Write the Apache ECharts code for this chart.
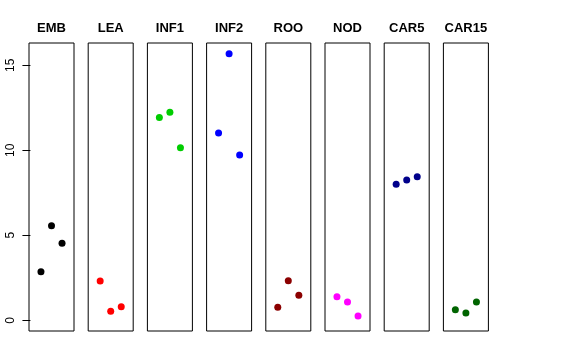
<!DOCTYPE html>
<html>
<head>
<meta charset="utf-8">
<script src="https://cdn.jsdelivr.net/npm/echarts@6/dist/echarts.min.js"></script>
<style>html,body{margin:0;padding:0;background:#fff}#c{width:576px;height:360px}</style>
</head>
<body>
<div id="c"></div>
<script>
var categories = ["EMB", "LEA", "INF1", "INF2", "ROO", "NOD", "CAR5", "CAR15"];
var EMB = [2.86, 5.56, 4.53];
var LEA = [2.31, 0.53, 0.80];
var INF1 = [11.93, 12.24, 10.15];
var INF2 = [11.02, 15.68, 9.72];
var ROO = [0.76, 2.33, 1.47];
var NOD = [1.39, 1.08, 0.25];
var CAR5 = [8.00, 8.25, 8.45];
var CAR15 = [0.62, 0.43, 1.08];
var yTicks = [0, 5, 10, 15];
var values = [EMB, LEA, INF1, INF2, ROO, NOD, CAR5, CAR15];
var colors = ["#000000", "#FF0000", "#00CD00", "#0000FF", "#8B0000", "#FF00FF", "#00008B", "#006400"];

(function () {
  var chart = echarts.init(document.getElementById('c'), null, {renderer: 'canvas'});
  var grids = [], xAxes = [], yAxes = [], series = [], titles = [];
  var left0 = 29, step = 59.2, pw = 45, ptop = 43, ph = 288;
  var fontFam = '"Liberation Sans", Arial, Helvetica, sans-serif';
  categories.forEach(function (cat, i) {
    var l = left0 + i * step;
    grids.push({left: l, top: ptop, width: pw, height: ph, show: true, borderColor: '#000', borderWidth: 1, backgroundColor: 'transparent'});
    xAxes.push({type: 'value', gridIndex: i, min: -0.135, max: 4.135, show: false});
    yAxes.push({
      type: 'value', gridIndex: i, min: -0.63, max: 16.31,
      show: i === 0,
      splitLine: {show: false},
      axisLine: {show: false},
      axisTick: {show: true, inside: false, length: 8, lineStyle: {color: '#000'}, customValues: yTicks},
      axisLabel: {show: true, rotate: 90, margin: 12, fontSize: 12, color: '#000', fontFamily: fontFam, customValues: yTicks}
    });
    series.push({
      type: 'scatter', xAxisIndex: i, yAxisIndex: i,
      symbol: 'circle', symbolSize: 7,
      itemStyle: {color: colors[i], opacity: 1},
      data: values[i].map(function (v, j) { return [j + 1, v]; }),
      silent: true
    });
    titles.push({
      text: cat, left: l + pw / 2, top: 22, padding: 0, textAlign: 'center',
      textStyle: {fontSize: 13, fontWeight: 'bold', color: '#000', fontFamily: fontFam}
    });
  });
  chart.setOption({
    animation: false,
    backgroundColor: '#fff',
    title: titles,
    grid: grids,
    xAxis: xAxes,
    yAxis: yAxes,
    series: series
  });
})();
</script>
</body>
</html>
